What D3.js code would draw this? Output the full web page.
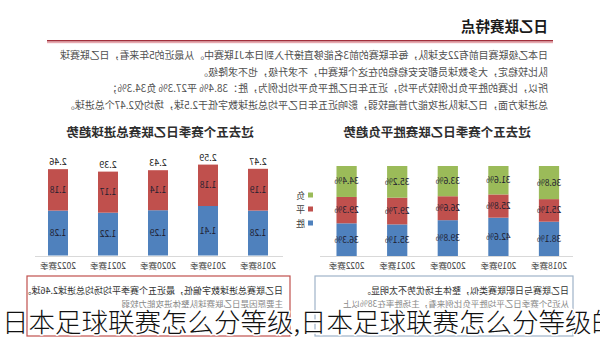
<!DOCTYPE html>
<html>
<head>
<meta charset="utf-8">
<script src="https://cdn.jsdelivr.net/npm/d3@7/dist/d3.min.js"></script>
<style>
  html, body { margin: 0; padding: 0; background: #fff; }
  svg { display: block; font-family: "Noto Sans CJK SC", "Noto Sans", sans-serif; }
</style>
</head>
<body>
<svg id="chart" width="600" height="337"></svg>
<script>
// Season categories
const seasons = ["2018赛季", "2019赛季", "2020赛季", "2021赛季", "2022赛季"];

// Average goals per match: home (lower segment) and away (upper segment)
const homeGoals = [1.28, 1.41, 1.29, 1.22, 1.28];
const awayGoals = [1.19, 1.18, 1.14, 1.17, 1.18];
const totalGoals = [2.47, 2.59, 2.43, 2.39, 2.46];

// Home result shares (%)
const winPct  = [38.1, 42.6, 39.8, 35.1, 36.3];
const drawPct = [25.1, 25.8, 26.6, 29.7, 29.3];
const lossPct = [36.8, 31.6, 33.6, 35.2, 34.4];

const resultKeys = ["胜", "平", "负"];
const resultColors = { "胜": "#4f81bd", "平": "#c0504d", "负": "#9bbb59" };
const goalKeys = ["主", "客"];
const goalColors = { "主": "#4f81bd", "客": "#c0504d" };

const headerTitle = "日乙联赛特点";
const bodyLines = [
  "日本乙级联赛目前有22支球队，每年联赛的前3名能够直接升入到日本J1联赛中。从最近的5年来看，日乙联赛球",
  "队比较稳定，大多数球员都安安稳稳的在这个联赛中，不求升级，也不求降级。",
  "所以，比赛的胜平负比例较为平均，近五年日乙胜平负平均比例为，胜：38.4% 平27.3% 负34.3%；",
  "总进球方面，日乙球队进攻能力普遍较弱，影响近五年日乙平均总进球数字低于2.5球，场均仅2.47个总进球。"
];
const resultTitle = "过去五个赛季日乙联赛胜平负趋势";
const goalTitle = "过去五个赛季日乙联赛总进球趋势";
const resultNote = ["日乙联赛与日职联赛类似，整体主场优势不太明显。", "从近5个赛季日乙平均胜平负比例来看，主场胜率在38%以上"];
const goalNote = ["日乙联赛总进球数字偏低，最近五个赛季平均场均总进球2.46球。", "主要原因是日乙联赛球队整体进攻能力较弱"];
const caption = "日本足球联赛怎么分等级,日本足球联赛怎么分等级的";

const svg = d3.select("#chart");

// The document page is laid out, then flipped horizontally as a whole
const page = svg.append("g").attr("transform", "translate(600,0) scale(-1,1)");

// ---- Header ----
page.append("text")
  .attr("x", 52).attr("y", 32)
  .attr("font-size", 14.5).attr("font-weight", 700).attr("fill", "#1a1a1a")
  .text(headerTitle);
page.append("rect").attr("x", 47).attr("y", 40).attr("width", 506).attr("height", 1.6).attr("fill", "#a3303c");
page.append("rect").attr("x", 47).attr("y", 41.6).attr("width", 506).attr("height", 1.6).attr("fill", "#e7a9b0");

// ---- Body paragraph ----
page.selectAll("text.body").data(bodyLines).join("text")
  .attr("class", "body")
  .attr("x", 52)
  .attr("y", (d, i) => 59 + i * 16.7)
  .attr("font-size", 10).attr("fill", "#505050")
  .each(function (d, i) { if (i === 0) d3.select(this).attr("textLength", 488).attr("lengthAdjust", "spacing"); })
  .text(d => d);

// ---- Result share chart (stacked 100%) ----
{
  const rows = seasons.map((s, i) => ({ season: s, "胜": winPct[i], "平": drawPct[i], "负": lossPct[i] }));
  const x = d3.scaleBand().domain(seasons).range([25.7, 278.7]).paddingInner(0.6).paddingOuter(0.3);
  const y = d3.scaleLinear().domain([0, 100]).range([256, 166]);
  const stack = d3.stack().keys(resultKeys)(rows);

  page.append("text").attr("x", 163).attr("y", 137).attr("text-anchor", "middle")
    .attr("font-size", 12.5).attr("font-weight", 700).attr("fill", "#2e2e2e").text(resultTitle);

  page.append("line").attr("x1", 27).attr("x2", 280).attr("y1", 256.5).attr("y2", 256.5)
    .attr("stroke", "#d9d9d9").attr("stroke-width", 1);

  const layer = page.append("g").selectAll("g").data(stack).join("g")
    .attr("fill", d => resultColors[d.key]);
  layer.selectAll("rect").data(d => d).join("rect")
    .attr("x", d => x(d.data.season))
    .attr("width", x.bandwidth())
    .attr("y", d => y(d[1]))
    .attr("height", d => y(d[0]) - y(d[1]));

  page.append("g").selectAll("g").data(stack).join("g")
    .selectAll("text").data(d => d.map(v => ({ v, key: d.key }))).join("text")
    .attr("x", d => x(d.v.data.season) + x.bandwidth() / 2)
    .attr("y", d => (y(d.v[0]) + y(d.v[1])) / 2 + 3)
    .attr("text-anchor", "middle").attr("font-size", 8.5).attr("fill", "#1e2030")
    .text(d => d.v.data[d.key].toFixed(1) + "%");

  page.append("g").selectAll("text").data(seasons).join("text")
    .attr("x", d => x(d) + x.bandwidth() / 2).attr("y", 268.5)
    .attr("text-anchor", "middle").attr("font-size", 8.5).attr("fill", "#404040")
    .text(d => d);

  // legend, top to bottom: 负 / 平 / 胜
  const legend = page.append("g").selectAll("g").data(resultKeys.slice().reverse()).join("g")
    .attr("transform", (d, i) => `translate(287,${195 + i * 14})`);
  legend.append("rect").attr("x", 0).attr("y", -2.5).attr("width", 5).attr("height", 5)
    .attr("fill", d => resultColors[d]);
  legend.append("text").attr("x", 8).attr("y", 3.5).attr("font-size", 9).attr("fill", "#404040").text(d => d);

  page.append("rect").attr("x", 27).attr("y", 276).attr("width", 258).attr("height", 60)
    .attr("fill", "#fff").attr("stroke", "#9fb3c8").attr("stroke-width", 1.2);
  page.append("text").attr("x", 31).attr("y", 294).attr("font-size", 9).attr("fill", "#333").text(resultNote[0]);
  page.append("text").attr("x", 31).attr("y", 307).attr("font-size", 8.5).attr("fill", "#888").text(resultNote[1]);
}

// ---- Goals chart (stacked) ----
{
  const rows = seasons.map((s, i) => ({ season: s, "主": homeGoals[i], "客": awayGoals[i], total: totalGoals[i] }));
  const x = d3.scaleBand().domain(seasons).range([317, 567]).paddingInner(0.6).paddingOuter(0.3);
  const y = d3.scaleLinear().domain([0, 3]).range([255.5, 150.2]);
  const stack = d3.stack().keys(goalKeys)(rows);

  page.append("text").attr("x", 440).attr("y", 137).attr("text-anchor", "middle")
    .attr("font-size", 12.5).attr("font-weight", 700).attr("fill", "#2e2e2e").text(goalTitle);

  page.append("line").attr("x1", 317).attr("x2", 565).attr("y1", 256.5).attr("y2", 256.5)
    .attr("stroke", "#d9d9d9").attr("stroke-width", 1);

  const layer = page.append("g").selectAll("g").data(stack).join("g")
    .attr("fill", d => goalColors[d.key]);
  layer.selectAll("rect").data(d => d).join("rect")
    .attr("x", d => x(d.data.season))
    .attr("width", x.bandwidth())
    .attr("y", d => y(d[1]))
    .attr("height", d => y(d[0]) - y(d[1]));

  page.append("g").selectAll("g").data(stack).join("g")
    .selectAll("text").data(d => d.map(v => ({ v, key: d.key }))).join("text")
    .attr("x", d => x(d.v.data.season) + x.bandwidth() / 2)
    .attr("y", d => (y(d.v[0]) + y(d.v[1])) / 2 + 3)
    .attr("text-anchor", "middle").attr("font-size", 8.5).attr("fill", "#1e2030")
    .text(d => d.v.data[d.key].toFixed(2));

  page.append("g").selectAll("text").data(rows).join("text")
    .attr("x", d => x(d.season) + x.bandwidth() / 2)
    .attr("y", d => y(d.total) - 4)
    .attr("text-anchor", "middle").attr("font-size", 9).attr("fill", "#222")
    .text(d => d.total.toFixed(2));

  page.append("g").selectAll("text").data(seasons).join("text")
    .attr("x", d => x(d) + x.bandwidth() / 2).attr("y", 268.5)
    .attr("text-anchor", "middle").attr("font-size", 8.5).attr("fill", "#404040")
    .text(d => d);

  page.append("rect").attr("x", 310).attr("y", 276).attr("width", 263).attr("height", 60)
    .attr("fill", "#fff").attr("stroke", "#c0504d").attr("stroke-width", 1.2);
  page.append("text").attr("x", 317).attr("y", 294).attr("font-size", 9).attr("fill", "#333").text(goalNote[0]);
  page.append("text").attr("x", 317).attr("y", 307).attr("font-size", 8.5).attr("fill", "#888").text(goalNote[1]);
}

// ---- Caption over the page ----
svg.append("text")
  .attr("x", 2).attr("y", 332)
  .attr("font-size", 26.5).attr("font-weight", 300).attr("fill", "#111")
  .attr("stroke", "#fff").attr("stroke-width", 3).attr("paint-order", "stroke")
  .attr("stroke-linejoin", "round")
  .text(caption);
</script>
</body>
</html>
